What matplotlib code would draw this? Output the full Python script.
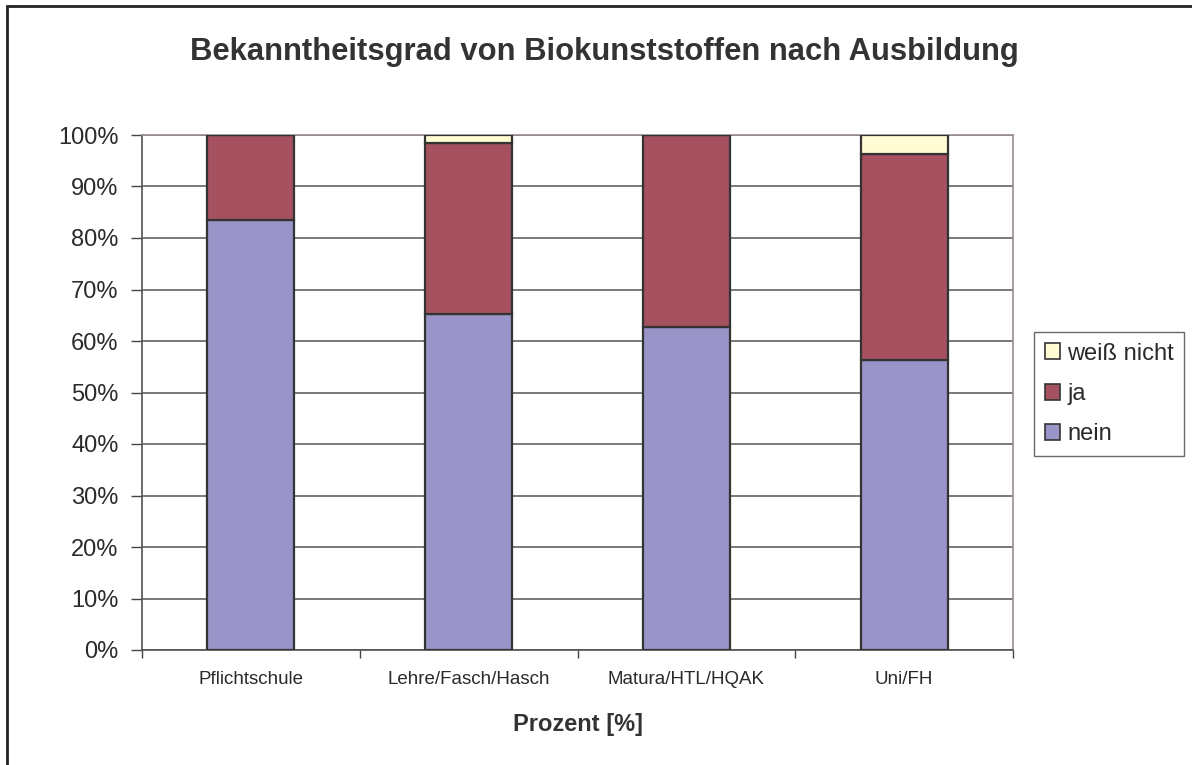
import matplotlib
matplotlib.use("Agg")
import matplotlib.pyplot as plt
from matplotlib.patches import Rectangle, Patch
import numpy as np

categories = ["Pflichtschule", "Lehre/Fasch/Hasch", "Matura/HTL/HQAK", "Uni/FH"]
nein = [83.5, 65.3, 62.7, 56.3]
ja = [16.5, 33.2, 37.3, 40.0]
weiss_nicht = [0.0, 1.5, 0.0, 3.7]
series_names = ["nein", "ja", "weiß nicht"]
yticks = [0, 10, 20, 30, 40, 50, 60, 70, 80, 90, 100]
title = "Bekanntheitsgrad von Biokunststoffen nach Ausbildung"
xlabel = "Prozent [%]"

plt.rcParams['font.family'] = ['Liberation Sans', 'DejaVu Sans']

W, H = 1192, 765
fig = plt.figure(figsize=(W / 100, H / 100), dpi=100)
fig.patch.set_facecolor("white")

ax = fig.add_axes([142 / W, 1 - 650 / H, (1013 - 142) / W, (650 - 135) / H])

colors = ["#9A95C8", "#A5515F", "#FFFBD2"]
edge = "#333333"
txt = "#2a2a2a"
x = np.arange(len(categories))
bw = 0.4
bottom = np.zeros(len(categories))
for vals, c, name in zip([nein, ja, weiss_nicht], colors, series_names):
    v = np.array(vals)
    ax.bar(x, v, bw, bottom=bottom, color=c, edgecolor=edge, linewidth=1.6,
           label=name, zorder=3)
    bottom += v

ax.set_xlim(-0.5, len(categories) - 0.5)
ax.set_ylim(0, 100)
ax.set_yticks(yticks)
ax.set_yticklabels([f"{t}%" for t in yticks], fontsize=17, color=txt)
ax.yaxis.grid(True, color="#555555", linewidth=1.1, zorder=0)
ax.set_axisbelow(True)

ax.set_xticks(x)
ax.set_xticklabels(categories, fontsize=13.5, color=txt)
ax.tick_params(axis="x", length=0, pad=15)
ax.set_xticks(np.arange(-0.5, len(categories)), minor=True)
ax.tick_params(axis="x", which="minor", length=6, color="#444444", width=1)
ax.tick_params(axis="y", length=8, color="#444444", width=1, pad=9)

for s in ["left", "bottom"]:
    ax.spines[s].set_color("#555050")
    ax.spines[s].set_linewidth(1.2)
for s in ["top", "right"]:
    ax.spines[s].set_color("#9A8E8E")
    ax.spines[s].set_linewidth(1.2)

fig.text(604 / W, 1 - 52 / H, title, ha="center", va="center",
         fontsize=22.3, fontweight="bold", color="#333333")
fig.text(578 / W, 1 - 724 / H, xlabel, ha="center", va="center",
         fontsize=17, fontweight="bold", color="#333333")

handles = [Patch(facecolor=colors[i], edgecolor=edge, linewidth=1.2, label=series_names[i])
           for i in [2, 1, 0]]
leg = fig.legend(handles=handles, loc="upper left",
                 bbox_to_anchor=(1034 / W, 1 - 332 / H),
                 bbox_transform=fig.transFigure,
                 fontsize=17, frameon=True, fancybox=False,
                 handlelength=0.65, handleheight=0.65, handletextpad=0.3,
                 labelspacing=0.78, borderpad=0.45, borderaxespad=0)
leg.get_frame().set_edgecolor("#444444")
leg.get_frame().set_linewidth(1.0)
for t in leg.get_texts():
    t.set_color(txt)

fig.patches.append(Rectangle((7 / W, -0.2), 2.0, (1 - 6 / H) + 0.2,
                             transform=fig.transFigure, fill=False,
                             edgecolor="#222222", linewidth=2, clip_on=False))

fig.savefig("out.png", dpi=100)
